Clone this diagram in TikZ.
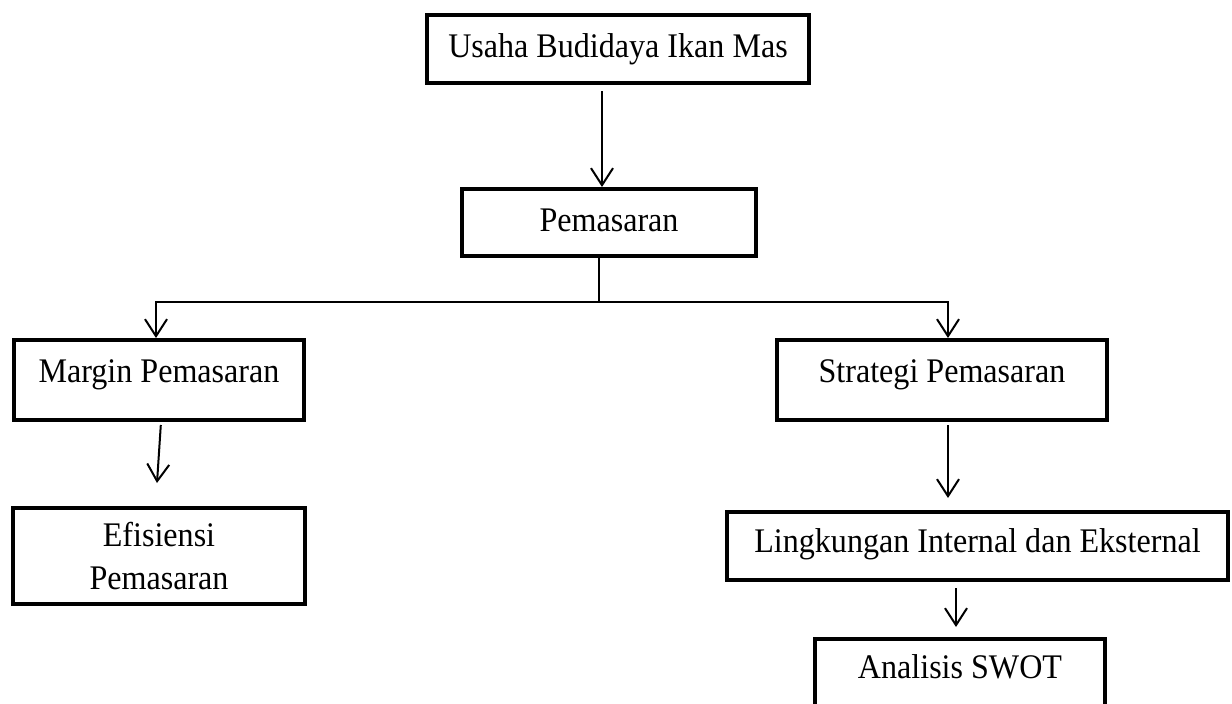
\documentclass[tikz,border=0pt]{standalone}
\usepackage{fontspec}
\setmainfont{Liberation Serif}[FakeStretch=0.93]
\usetikzlibrary{arrows.meta}

\begin{document}
\begin{tikzpicture}[x=1pt, y=-1pt,
	box/.style={draw, rectangle, line width=4pt, inner sep=0pt,
		font=\fontsize{34.5}{43}\selectfont, text height=24pt, text depth=7pt},
	>={Straight Barb[length=17pt, width=22pt]},
	arr/.style={->, line width=2pt},
	conn/.style={line width=2pt}]
	\useasboundingbox (0,0) rectangle (1232,704);

	% boxes
	\node[box, minimum width=382pt, minimum height=68pt, text depth=8pt] (usaha) at (618,49) {Usaha Budidaya Ikan Mas};
	\node[box, minimum width=294pt, minimum height=67pt] (pemasaran) at (609,222.5) {Pemasaran};
	\node[box, minimum width=290pt, minimum height=80pt, text depth=19pt] (margin) at (159,380) {Margin Pemasaran};
	\node[box, minimum width=330pt, minimum height=80pt, text depth=19pt] (strategi) at (942,380) {Strategi Pemasaran};
	\node[box, minimum width=292pt, minimum height=96pt, text height=, text depth=, align=center] (efisiensi) at (159,556) {Efisiensi\\Pemasaran};
	\node[box, minimum width=501pt, minimum height=68pt, text depth=11pt] (lingkungan) at (977.5,546) {Lingkungan Internal dan Eksternal};
	\node[box, minimum width=290pt, minimum height=74pt, text depth=19pt] (swot) at (960,676) {Analisis SWOT};

	% connectors
	\coordinate (bus) at (599,302);
	\draw[arr, shorten <=6pt] ([xshift=-16pt]usaha.south) -- ([xshift=-16pt]usaha.south |- pemasaran.north);
	\draw[conn] ([xshift=-10pt]pemasaran.south) -- (bus);
	\draw[arr] (bus) -| ([xshift=-3pt]margin.north);
	\draw[arr] (bus) -| ([xshift=6pt]strategi.north);
	\draw[arr, shorten <=3pt] ([xshift=2pt]margin.south) -- ([xshift=-2pt, yshift=23pt]efisiensi.north);
	\draw[arr, shorten <=3pt, shorten >=12pt] ([xshift=6pt]strategi.south) -- ([xshift=6pt]strategi.south |- lingkungan.north);
	\draw[arr, shorten <=6pt, shorten >=10pt] ([xshift=-21.5pt]lingkungan.south) -- ([xshift=-21.5pt]lingkungan.south |- swot.north);
\end{tikzpicture}
\end{document}
